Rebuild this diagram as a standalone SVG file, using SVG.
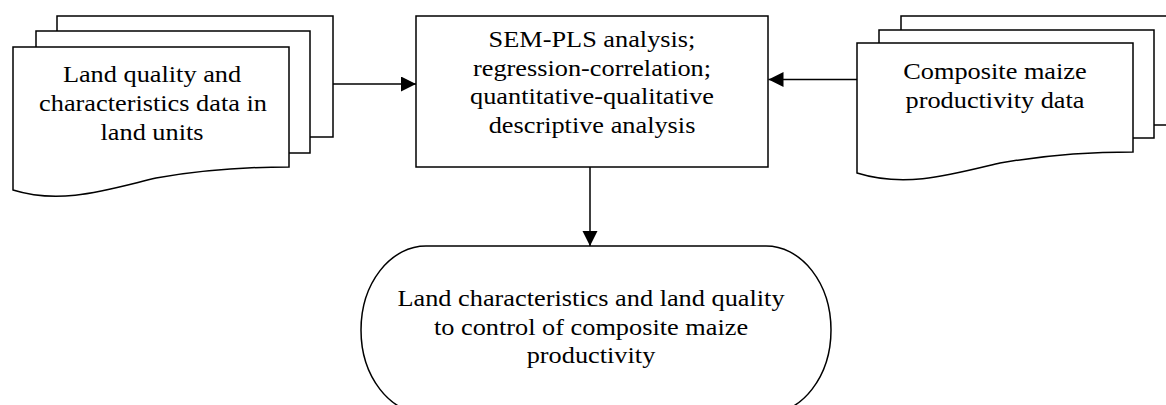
<svg xmlns="http://www.w3.org/2000/svg" width="1166" height="405" viewBox="0 0 1166 405">
<style>
.sh{fill:#fff;stroke:#000;stroke-width:1.5;stroke-linejoin:miter}
.ln{fill:none;stroke:#000;stroke-width:1.5}
.t{font-family:"Liberation Serif","Times New Roman",serif;font-size:23.5px;fill:#000;text-anchor:middle}
</style>
<defs>
<marker id="ah" markerUnits="userSpaceOnUse" markerWidth="16" markerHeight="16" refX="15" refY="7.5" orient="auto">
<path d="M0,0 L15,7.5 L0,15 Z" fill="#000"/>
</marker>
</defs>
<rect width="1166" height="405" fill="#fff"/>
<g id="connectors">
<line class="ln" x1="333" y1="84" x2="416" y2="84" marker-end="url(#ah)"/>
<line class="ln" x1="857" y1="79.5" x2="768.5" y2="79.5" marker-end="url(#ah)"/>
<line class="ln" x1="590" y1="167" x2="590" y2="246" marker-end="url(#ah)"/>
</g>
<g id="node-land-data">
<rect class="sh" x="57" y="16" width="276" height="121"/>
<rect class="sh" x="36" y="31" width="274" height="122"/>
<path class="sh" d="M13,47 H289 V167 C246,167 196,171 156,178 C106,190 61,205 13,190 Z"/>
<g class="t">
<text transform="translate(152,0) scale(1.12,1)" x="0" y="82.5">Land quality and</text>
<text transform="translate(153,0) scale(1.12,1)" x="0" y="111.3">characteristics data in</text>
<text transform="translate(152,0) scale(1.12,1)" x="0" y="140">land units</text>
</g>
</g>
<g id="node-analysis">
<rect class="sh" x="416" y="16" width="352" height="151"/>
<g class="t">
<text transform="translate(592,0) scale(1.12,1)" x="0" y="47.5">SEM-PLS analysis;</text>
<text transform="translate(592,0) scale(1.12,1)" x="0" y="76">regression-correlation;</text>
<text transform="translate(592,0) scale(1.12,1)" x="0" y="104.3">quantitative-qualitative</text>
<text transform="translate(592,0) scale(1.12,1)" x="0" y="132.7">descriptive analysis</text>
</g>
</g>
<g id="node-maize-data">
<rect class="sh" x="901" y="16" width="300" height="109"/>
<rect class="sh" x="879" y="30" width="275" height="108"/>
<path class="sh" d="M857,43 H1133 V152 C1090,152 1040,156 1000,163 C950,175 905,188 857,173 Z"/>
<g class="t">
<text transform="translate(995,0) scale(1.12,1)" x="0" y="79">Composite maize</text>
<text transform="translate(995,0) scale(1.12,1)" x="0" y="108.3">productivity data</text>
</g>
</g>
<g id="node-result">
<rect class="sh" x="361" y="246" width="470" height="168" rx="65" ry="84"/>
<g class="t">
<text transform="translate(591,0) scale(1.12,1)" x="0" y="306">Land characteristics and land quality</text>
<text transform="translate(591,0) scale(1.12,1)" x="0" y="335">to control of composite maize</text>
<text transform="translate(591,0) scale(1.12,1)" x="0" y="363">productivity</text>
</g>
</g>
</svg>
